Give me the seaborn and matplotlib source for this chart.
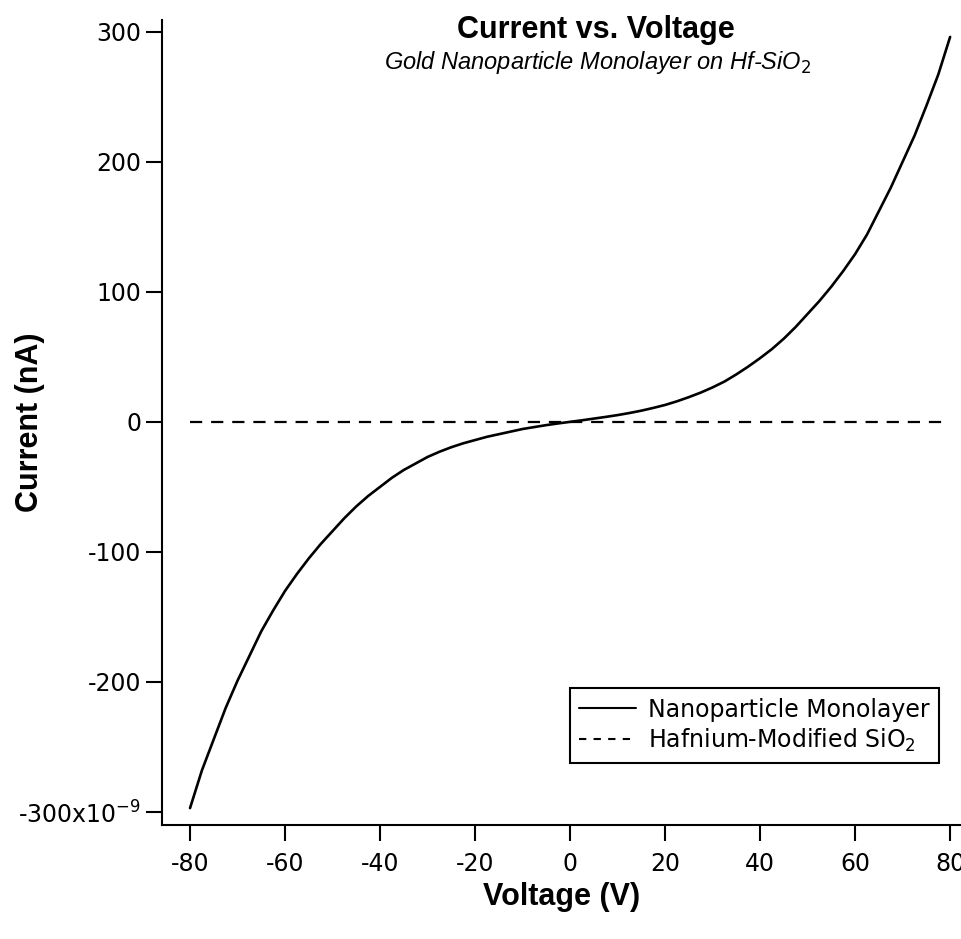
import matplotlib
matplotlib.use("Agg")
import matplotlib.pyplot as plt
import pandas as pd
import seaborn as sns
from matplotlib.ticker import FixedLocator, FixedFormatter

# Sweep voltage (V) and measured current (nA)
voltage = [-80, -77.5, -75, -72.5, -70, -67.5, -65, -62.5, -60, -57.5, -55,
           -52.5, -50, -47.5, -45, -42.5, -40, -37.5, -35, -32.5, -30, -27.5,
           -25, -22.5, -20, -17.5, -15, -12.5, -10, -7.5, -5, -2.5, 0, 2.5,
           5, 7.5, 10, 12.5, 15, 17.5, 20, 22.5, 25, 27.5, 30, 32.5, 35,
           37.5, 40, 42.5, 45, 47.5, 50, 52.5, 55, 57.5, 60, 62.5, 65, 67.5,
           70, 72.5, 75, 77.5, 80]
current_monolayer = [-297, -268, -244, -220, -199, -180, -161, -145, -130,
                     -117, -105, -94, -84, -74, -65, -57, -50, -43, -37, -32,
                     -27, -23, -19.5, -16.5, -14, -11.5, -9.5, -7.5, -5.5,
                     -4, -2.5, -1.2, 0, 1.2, 2.5, 3.8, 5.2, 6.8, 8.6, 10.7,
                     13, 15.8, 19, 22.5, 26.5, 31, 36.5, 42.5, 49, 56, 64,
                     73, 83, 93, 104, 116, 129, 144, 162, 180, 200, 220, 243,
                     267, 296]

voltage_substrate = [-80, -40, 0, 40, 80]
current_substrate = [0.0, 0.0, 0.0, 0.0, 0.0]

x_ticks = [-80, -60, -40, -20, 0, 20, 40, 60, 80]
x_tick_labels = ["-80", "-60", "-40", "-20", "0", "20", "40", "60", "80"]
y_ticks = [-300, -200, -100, 0, 100, 200, 300]
y_tick_labels = ["-300x10$^{-9}$", "-200", "-100", "0", "100", "200", "300"]

series_names = ["Nanoparticle Monolayer", "Hafnium-Modified SiO$_2$"]

df_mono = pd.DataFrame({"V": voltage, "I": current_monolayer})
df_sub = pd.DataFrame({"V": voltage_substrate, "I": current_substrate})

sns.set_style("ticks")
plt.rcParams["font.family"] = ["DejaVu Sans"]
plt.rcParams["mathtext.fontset"] = "dejavusans"
plt.rcParams["text.color"] = "black"
plt.rcParams["axes.labelcolor"] = "black"

fig = plt.figure(figsize=(9.62, 9.39), dpi=100)
ax = fig.add_axes([0.1684, 0.1214, 0.8316, 0.8573])

sns.lineplot(data=df_mono, x="V", y="I", ax=ax, color="black", lw=1.9,
             label=series_names[0], sort=False)
sns.lineplot(data=df_sub, x="V", y="I", ax=ax, color="black", lw=1.6,
             label=series_names[1], sort=False)
ax.lines[1].set_dashes((5.5, 4.0))

ax.set_xlim(-85.9, 82.5)
ax.set_ylim(-310, 309)

ax.xaxis.set_major_locator(FixedLocator(x_ticks))
ax.xaxis.set_major_formatter(FixedFormatter(x_tick_labels))
ax.yaxis.set_major_locator(FixedLocator(y_ticks))
ax.yaxis.set_major_formatter(FixedFormatter(y_tick_labels))

sns.despine(ax=ax, top=True, right=True)
for side in ("left", "bottom"):
    ax.spines[side].set_linewidth(1.5)
    ax.spines[side].set_color("black")

ax.tick_params(axis="both", direction="out", length=11.5, width=1.5,
               colors="black", labelsize=17)
ax.tick_params(axis="y", pad=3.5)
ax.tick_params(axis="x", pad=8)

ax.set_xlabel("Voltage (V)", fontsize=22, fontweight="bold",
              family="Liberation Sans", labelpad=4)
ax.set_ylabel("Current (nA)", fontsize=22, fontweight="bold",
              family="Liberation Sans")
ax.yaxis.set_label_coords(-0.146, 0.5)

fig.text(0.6195, 0.9595, "Current vs. Voltage", ha="center", va="baseline",
         fontsize=22, fontweight="bold", family="Liberation Sans")
fig.text(0.6216, 0.926, "Gold Nanoparticle Monolayer on Hf-SiO$_2$",
         ha="center", va="baseline", fontsize=17, style="italic",
         family="Liberation Sans")

leg = ax.legend(loc="lower right", bbox_to_anchor=(0.971, 0.077),
                borderaxespad=0, fontsize=17, frameon=True, fancybox=False,
                handlelength=2.4, handletextpad=0.5, borderpad=0.4,
                labelspacing=0.2)
leg.get_frame().set_edgecolor("black")
leg.get_frame().set_linewidth(1.5)
leg.get_frame().set_alpha(1)
for h in leg.get_lines():
    h.set_linewidth(1.5)
leg.get_lines()[1].set_dashes((3.5, 3.5))
for t in leg.get_texts():
    t.set_color("black")

fig.savefig("out.png", dpi=100, facecolor="white")
